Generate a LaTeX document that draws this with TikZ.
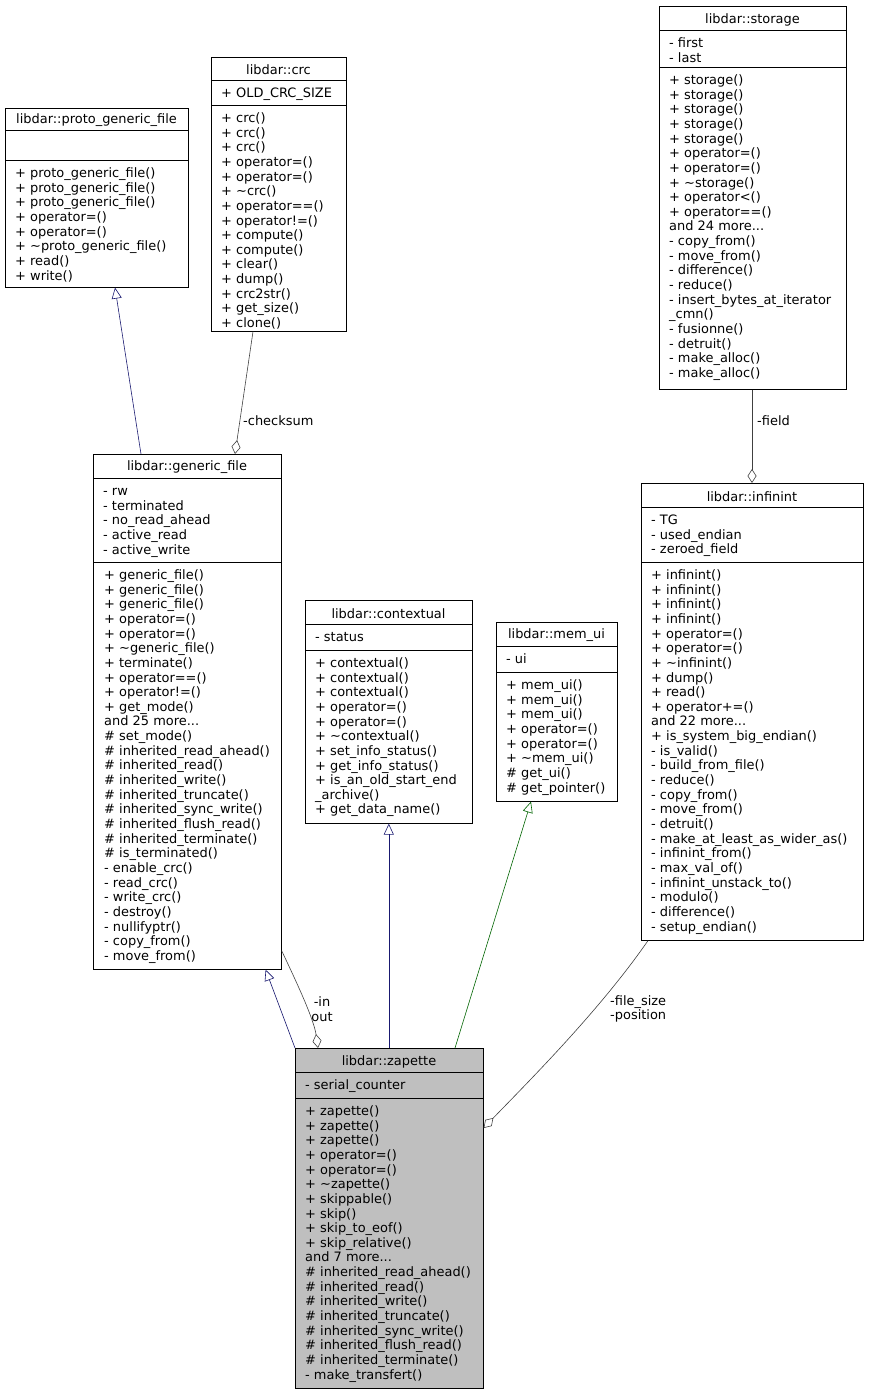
\documentclass[tikz,border=0pt]{standalone}
\usepackage{fontspec}
\setmainfont{DejaVu Sans}
\usetikzlibrary{arrows.meta}
\newcommand\ta{\textasciitilde}
\tikzset{
  x=1pt,y=-1pt,
  clsfill/.style={fill=white},
  txt/.style={inner sep=0pt,anchor=north west,align=left,font=\fontsize{12.95}{14.65}\selectfont},
  ttl/.style={inner sep=0pt,font=\fontsize{12.95}{14.65}\selectfont},
  lbl/.style={inner sep=0pt,align=left,font=\fontsize{12.95}{14.65}\selectfont,text=black},
  conn/.style={draw=black!75,line width=0.6pt},
  inh/.style={line width=0.6pt,-{Triangle[open,length=11pt,width=10pt]}},
  comp/.style={conn,-{Diamond[open,length=14pt,width=9pt]}},
}
% name x1 x2 y1 y2 y3 y4 title attrs
\newcommand\cls[9]{%
  \node[draw=black,clsfill,line width=0.6pt,inner sep=0pt,anchor=north west,
        minimum width={#3-#2},minimum height={#7-#4}] (#1) at (#2,#4) {};
  \draw[line width=0.6pt] (#2,#5) -- (#3,#5) (#2,#6) -- (#3,#6);
  \node[ttl] (#1-t) at ({(#2+#3)/2},{(#4+#5)/2+1.5}) {#8};
  \node[txt] (#1-a) at (#2+10,#5+7) {\strut#9};
}
\begin{document}
\begin{tikzpicture}
\useasboundingbox (0,0) rectangle (869,1395);

\cls{pgf}{5}{188}{108}{130}{160}{287}{libdar::proto\_generic\_file}{}
\node[txt] (pgf-m) at (15,167) {\strut+ proto\_generic\_file()\\+ proto\_generic\_file()\\+ proto\_generic\_file()\\+ operator=()\\+ operator=()\\+ \ta proto\_generic\_file()\\+ read()\\+ write()};

\cls{crc}{211}{346}{57}{80}{105}{331}{libdar::crc}{+ OLD\_CRC\_SIZE}
\node[txt] (crc-m) at (221,112) {\strut+ crc()\\+ crc()\\+ crc()\\+ operator=()\\+ operator=()\\+ \ta crc()\\+ operator==()\\+ operator!=()\\+ compute()\\+ compute()\\+ clear()\\+ dump()\\+ crc2str()\\+ get\_size()\\+ clone()};

\cls{sto}{659}{846}{6}{30}{67}{389}{libdar::storage}{- first\\- last}
\node[txt] (sto-m) at (669,74) {\strut+ storage()\\+ storage()\\+ storage()\\+ storage()\\+ storage()\\+ operator=()\\+ operator=()\\+ \ta storage()\\+ operator<()\\+ operator==()\\and 24 more...\\- copy\_from()\\- move\_from()\\- difference()\\- reduce()\\- insert\_bytes\_at\_iterator\\\_cmn()\\- fusionne()\\- detruit()\\- make\_alloc()\\- make\_alloc()};

\cls{gf}{93}{281}{454}{478}{562}{969}{libdar::generic\_file}{- rw\\- terminated\\- no\_read\_ahead\\- active\_read\\- active\_write}
\node[txt] (gf-m) at (104,569) {\strut+ generic\_file()\\+ generic\_file()\\+ generic\_file()\\+ operator=()\\+ operator=()\\+ \ta generic\_file()\\+ terminate()\\+ operator==()\\+ operator!=()\\+ get\_mode()\\and 25 more...\\\# set\_mode()\\\# inherited\_read\_ahead()\\\# inherited\_read()\\\# inherited\_write()\\\# inherited\_truncate()\\\# inherited\_sync\_write()\\\# inherited\_flush\_read()\\\# inherited\_terminate()\\\# is\_terminated()\\- enable\_crc()\\- read\_crc()\\- write\_crc()\\- destroy()\\- nullifyptr()\\- copy\_from()\\- move\_from()};

\cls{ctx}{305}{472}{600}{624}{650}{823}{libdar::contextual}{- status}
\node[txt] (ctx-m) at (315,657) {\strut+ contextual()\\+ contextual()\\+ contextual()\\+ operator=()\\+ operator=()\\+ \ta contextual()\\+ set\_info\_status()\\+ get\_info\_status()\\+ is\_an\_old\_start\_end\\\_archive()\\+ get\_data\_name()};

\cls{mem}{496}{617}{622}{646}{672}{801}{libdar::mem\_ui}{- ui}
\node[txt] (mem-m) at (506,679) {\strut+ mem\_ui()\\+ mem\_ui()\\+ mem\_ui()\\+ operator=()\\+ operator=()\\+ \ta mem\_ui()\\\# get\_ui()\\\# get\_pointer()};

\cls{inf}{641}{863}{483}{507}{562}{940}{libdar::infinint}{- TG\\- used\_endian\\- zeroed\_field}
\node[txt] (inf-m) at (651,569) {\strut+ infinint()\\+ infinint()\\+ infinint()\\+ infinint()\\+ operator=()\\+ operator=()\\+ \ta infinint()\\+ dump()\\+ read()\\+ operator+=()\\and 22 more...\\+ is\_system\_big\_endian()\\- is\_valid()\\- build\_from\_file()\\- reduce()\\- copy\_from()\\- move\_from()\\- detruit()\\- make\_at\_least\_as\_wider\_as()\\- infinint\_from()\\- max\_val\_of()\\- infinint\_unstack\_to()\\- modulo()\\- difference()\\- setup\_endian()};

\tikzset{clsfill/.style={fill=black!25}}
\cls{zp}{295}{483}{1048}{1072}{1098}{1388}{libdar::zapette}{- serial\_counter}
\node[txt] (zp-m) at (305,1105) {\strut+ zapette()\\+ zapette()\\+ zapette()\\+ operator=()\\+ operator=()\\+ \ta zapette()\\+ skippable()\\+ skip()\\+ skip\_to\_eof()\\+ skip\_relative()\\and 7 more...\\\# inherited\_read\_ahead()\\\# inherited\_read()\\\# inherited\_write()\\\# inherited\_truncate()\\\# inherited\_sync\_write()\\\# inherited\_flush\_read()\\\# inherited\_terminate()\\- make\_transfert()};

% connectors
\draw[inh,color={rgb,255:red,25;green,25;blue,112}] ([xshift=48pt]gf.north west) -- ([xshift=110pt]pgf.south west);
\draw[comp] ([xshift=42pt]crc.south west) -- ([xshift=142pt]gf.north west);
\node[lbl,anchor=west] (ck) at (243,421) {-checksum};
\draw[comp] (sto.south -| 752,0) -- (inf.north -| 752,0);
\node[lbl,anchor=west] (fd) at (757,421) {-field};
\draw[inh,color={rgb,255:red,25;green,25;blue,112}] (zp.north west) -- ([xshift=-16pt]gf.south east);
\draw[comp] ([yshift=19pt]gf.south east) .. controls (298,985) and (314,1020) .. ([xshift=23pt]zp.north west);
\node[lbl,align=center] (inout) at (322,1009) {-in\\out};
\draw[inh,color={rgb,255:red,25;green,25;blue,112}] (zp.north -| ctx.south) -- (ctx.south);
\draw[inh,color={rgb,255:red,0;green,100;blue,0}] ([xshift=160pt]zp.north west) -- ([xshift=35pt]mem.south west);
\draw[comp] ([xshift=7pt]inf.south west) .. controls (600,1010) and (530,1080) .. ([yshift=-80pt]zp.north east);
\node[lbl,anchor=west] (fsp) at (610,1009) {-file\_size\\-position};
\end{tikzpicture}
\end{document}
